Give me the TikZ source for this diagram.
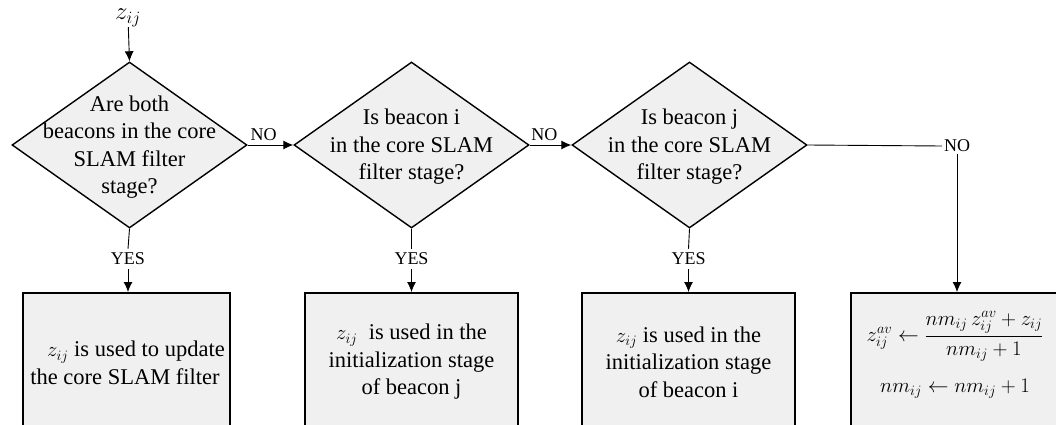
\documentclass[tikz,border=0pt]{standalone}
\usepackage{amsmath}
\usepackage{fontspec}
\setmainfont{Liberation Serif}
\usetikzlibrary{shapes.geometric,arrows.meta}
\definecolor{boxfill}{HTML}{F0F0F0}
\begin{document}
\begin{tikzpicture}[x=1pt,y=-1pt,
  dia/.style={diamond, draw, line width=1.4pt, fill=boxfill, minimum width=235pt, minimum height=166pt, inner sep=0pt},
  dtext/.style={align=center, font=\fontsize{22.5}{27.5}\selectfont, inner sep=0pt},
  box/.style={rectangle, draw, line width=2pt, fill=boxfill, minimum height=150pt, inner sep=0pt},
  lbl/.style={font=\fontsize{18}{20}\selectfont, inner sep=4pt},
  conn/.style={line width=0.9pt},
  arr/.style={conn, -{Latex[length=10pt,width=9pt]}},
]
\useasboundingbox (0,0) rectangle (1056,425);
\clip (0,0) rectangle (1056,425);

% input
\node[dtext, font=\fontsize{24}{28}\selectfont] (zin) at (128,18) {$z_{ij}$};

% diamonds
\node[dia] (d1) at (129.5,145) {};
\node[dia] (d2) at (411.5,145) {};
\node[dia] (d3) at (689.5,145) {};
\node[dtext] (t1) at (129.5,147) {Are both\\beacons in the core\\SLAM filter\\stage?};
\node[dtext] (t2) at (411.5,147) {Is beacon i\\in the core SLAM\\filter stage?};
\node[dtext] (t3) at (689.5,147) {Is beacon j\\in the core SLAM\\filter stage?};

% boxes
\node[box, minimum width=207pt] (b1) at (126.5,368) {};
\node[box, minimum width=213pt] (b2) at (411.5,368) {};
\node[box, minimum width=213pt] (b3) at (688.5,368) {};
\node[box, minimum width=213pt] (b4) at (957,368) {};
\node[dtext] (bt1) at (125,363) {\hspace{22pt}$z_{ij}$ is used to update\\the core SLAM filter};
\node[dtext] (bt2) at (411.5,362) {$z_{ij}$\ \ is used in the\\initialization stage\\of beacon j};
\node[dtext] (bt3) at (688.5,362) {$z_{ij}$ is used in the\\initialization stage\\of beacon i};
\node[dtext, align=center] (bt4) at (955,355) {$z^{av}_{ij} \leftarrow \dfrac{nm_{ij}\,z^{av}_{ij} + z_{ij}}{nm_{ij}+1}$\\[17pt]$nm_{ij} \leftarrow nm_{ij}+1$};

% labels
\node[lbl] (y1) at (128,259) {YES};
\node[lbl] (y2) at (411.5,259) {YES};
\node[lbl] (y3) at (688.5,259) {YES};
\node[lbl, inner sep=2pt] (n3) at (957,146) {NO};

% connectors
\draw[arr] (zin) -- (d1.north);
\draw[arr] (d1.east) -- node[lbl, above, pos=0.35] {NO} (d2.west);
\draw[arr] (d2.east) -- node[lbl, above, pos=0.35] {NO} (d3.west);
\draw[conn] (d3.east) -- (n3.west);
\draw[arr] (n3.south) -- (b4.north);
\draw[conn] (d1.south) -- (y1.north);
\draw[arr] (y1.south) -- (b1.north -| y1.south);
\draw[conn] (d2.south) -- (y2.north);
\draw[arr] (y2.south) -- (b2.north);
\draw[conn] (d3.south) -- (y3.north);
\draw[arr] (y3.south) -- (b3.north);
\end{tikzpicture}
\end{document}
